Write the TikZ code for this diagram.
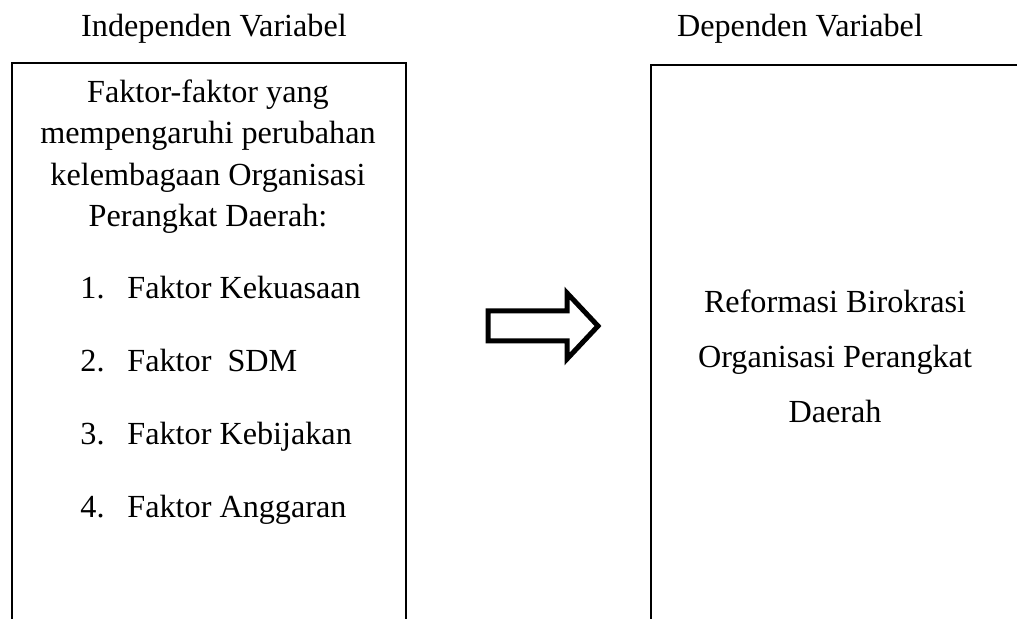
\documentclass[tikz,border=0pt]{standalone}
\usepackage{fontspec}
\setmainfont{Liberation Serif}
\usetikzlibrary{positioning}
\tikzset{
  every picture/.style={x=0.5pt, y=-0.5pt, line join=miter},
  txt/.style={font=\fontsize{16.1pt}{20.75pt}\selectfont, inner sep=0pt, align=center},
  wide/.style={font=\fontsize{16.1pt}{27.5pt}\selectfont, inner sep=0pt, align=center},
  item/.style={font=\fontsize{16.1pt}{20pt}\selectfont, inner sep=0pt, anchor=base west},
  frame/.style={draw=black, line width=0.7pt},
  bigarrow/.style={draw=black, line width=2.5pt, fill=white},
}
\begin{document}
\begin{tikzpicture}
  \useasboundingbox (0,0) rectangle (1017,619);
  % titles
  \node[txt, anchor=base] (indep) at (214,37) {Independen Variabel};
  \node[txt, anchor=base] (dep) at (800,37) {Dependen Variabel};
  % left: open box with the factors
  \draw[frame] (12,619) -- (12,63) -- (406,63) -- (406,619);
  \node[txt, anchor=base] (head) at (208,227) {Faktor-faktor yang\\mempengaruhi perubahan\\kelembagaan Organisasi\\Perangkat Daerah:};
  \foreach \t [count=\i] in {Faktor Kekuasaan, Faktor\ \ SDM, Faktor Kebijakan, Faktor Anggaran} {
    \node[item] (n\i) at (80,226+73*\i) {\i.};
    \node[item] (f\i) at (127,226+73*\i) {\t};
  }
  % middle: block arrow
  \draw[bigarrow] (488,311) -- (567,311) -- (567,293) -- (598,326) -- (567,359) -- (567,341) -- (488,341) -- cycle;
  % right: open box with the result
  \draw[frame] (651,619) -- (651,65) -- (1020,65);
  \node[wide, anchor=base] (res) at (835,423) {Reformasi Birokrasi\\Organisasi Perangkat\\Daerah};
\end{tikzpicture}
\end{document}
